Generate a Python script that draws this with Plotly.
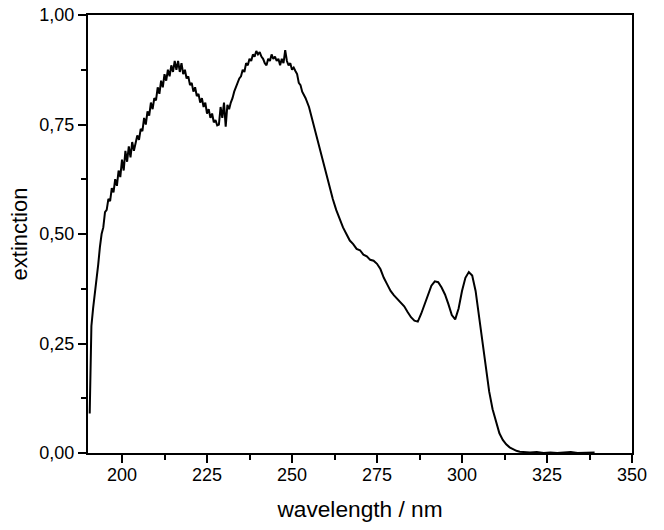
import plotly.graph_objects as go

# absorption spectrum (noisy part at 0.5 nm steps)
wavelength = [
    190.5, 191.0, 191.5, 192.0, 192.5, 193.0, 193.5, 194.0, 194.5, 195.0,
    195.5, 196.0, 196.5, 197.0, 197.5, 198.0, 198.5, 199.0, 199.5, 200.0,
    200.5, 201.0, 201.5, 202.0, 202.5, 203.0, 203.5, 204.0, 204.5, 205.0,
    205.5, 206.0, 206.5, 207.0, 207.5, 208.0, 208.5, 209.0, 209.5, 210.0,
    210.5, 211.0, 211.5, 212.0, 212.5, 213.0, 213.5, 214.0, 214.5, 215.0,
    215.5, 216.0, 216.5, 217.0, 217.5, 218.0, 218.5, 219.0, 219.5, 220.0,
    220.5, 221.0, 221.5, 222.0, 222.5, 223.0, 223.5, 224.0, 224.5, 225.0,
    225.5, 226.0, 226.5, 227.0, 227.5, 228.0, 228.5, 229.0, 229.5, 230.0,
    230.5, 231.0, 231.5, 232.0, 232.5, 233.0, 233.5, 234.0, 234.5, 235.0,
    235.5, 236.0, 236.5, 237.0, 237.5, 238.0, 238.5, 239.0, 239.5, 240.0,
    240.5, 241.0, 241.5, 242.0, 242.5, 243.0, 243.5, 244.0, 244.5, 245.0,
    245.5, 246.0, 246.5, 247.0, 247.5, 248.0, 248.5, 249.0, 249.5, 250.0,
    250.5, 251.0, 251.5, 252.0, 252.5,
    253, 254, 255, 256, 257, 258, 259, 260, 261, 262, 263, 264, 265, 266,
    267, 268, 269, 270, 271, 272, 273, 274, 275, 276, 277, 278, 279, 280,
    281, 282, 283, 284, 285, 286, 287, 288, 289, 290, 291, 292, 293, 294,
    295, 296, 297, 298, 299, 300, 301, 302, 303, 304, 305, 306, 307, 308,
    309, 310, 311, 312, 313, 314, 315, 316, 317, 318, 320, 322, 324, 326,
    328, 330, 332, 334, 336, 338, 339,
]
extinction = [
    0.09, 0.29, 0.33, 0.36, 0.40, 0.43, 0.47, 0.50, 0.515, 0.55,
    0.555, 0.58, 0.575, 0.605, 0.595, 0.625, 0.61, 0.645, 0.63, 0.67,
    0.645, 0.69, 0.665, 0.70, 0.675, 0.71, 0.69, 0.705, 0.725, 0.715,
    0.74, 0.735, 0.765, 0.75, 0.78, 0.77, 0.80, 0.785, 0.81, 0.805,
    0.835, 0.82, 0.85, 0.835, 0.865, 0.85, 0.875, 0.86, 0.885, 0.87,
    0.895, 0.875, 0.895, 0.87, 0.89, 0.865, 0.875, 0.855, 0.86, 0.84,
    0.845, 0.825, 0.835, 0.815, 0.82, 0.80, 0.81, 0.79, 0.80, 0.775,
    0.785, 0.765, 0.775, 0.755, 0.76, 0.748, 0.75, 0.79, 0.765, 0.80,
    0.745, 0.795, 0.785, 0.80, 0.81, 0.825, 0.835, 0.845, 0.855, 0.86,
    0.875, 0.87, 0.89, 0.885, 0.90, 0.895, 0.91, 0.905, 0.918, 0.91,
    0.915, 0.905, 0.90, 0.89, 0.885, 0.90, 0.895, 0.91, 0.90, 0.905,
    0.895, 0.90, 0.885, 0.90, 0.89, 0.92, 0.895, 0.885, 0.89, 0.875,
    0.88, 0.872, 0.865, 0.845, 0.84,
    0.825, 0.81, 0.79, 0.76, 0.73, 0.70, 0.67, 0.635, 0.605, 0.58, 0.555, 0.535, 0.515, 0.50,
    0.485, 0.477, 0.466, 0.463, 0.453, 0.449, 0.441, 0.439, 0.432, 0.42, 0.40, 0.385, 0.37, 0.36,
    0.352, 0.345, 0.335, 0.322, 0.31, 0.302, 0.30, 0.318, 0.34, 0.365, 0.382, 0.392, 0.39, 0.378,
    0.362, 0.34, 0.315, 0.305, 0.33, 0.37, 0.40, 0.413, 0.405, 0.37, 0.31, 0.26, 0.20, 0.14,
    0.10, 0.07, 0.045, 0.03, 0.02, 0.013, 0.008, 0.005, 0.003, 0.002, 0.001, 0.002, 0.0, 0.001,
    0.0, 0.001, 0.002, 0.0, 0.001, 0.002, 0.001,
]

font_name = "Liberation Sans, Arial"

fig = go.Figure(go.Scatter(x=wavelength, y=extinction, mode="lines",
                           line=dict(color="black", width=2)))

axis_style = dict(
    showline=True, linecolor="black", linewidth=2, mirror=True,
    ticks="outside", ticklen=8, tickwidth=2, tickcolor="black",
    showgrid=False, zeroline=False, automargin=False, ticklabeloverflow="allow",
    tickfont=dict(family=font_name, size=18, color="black"),
)
minor_style = dict(ticks="outside", ticklen=5, tickwidth=2, tickcolor="black")

fig.update_xaxes(
    axis_style, range=[190, 350], tick0=200, dtick=25, ticklabelstandoff=-4,
    minor=dict(minor_style, dtick=12.5, tick0=200),
    title=dict(text="wavelength / nm", font=dict(family=font_name, size=22.7, color="black"),
               standoff=18),
)
fig.update_yaxes(
    axis_style, range=[0, 1], dtick=0.25, tickformat=".2f",
    minor=dict(minor_style, dtick=0.125),
    title=dict(text="extinction", font=dict(family=font_name, size=22, color="black"),
               standoff=6),
)

fig.update_layout(
    width=664, height=530,
    margin=dict(l=88, r=32, t=15, b=77),
    plot_bgcolor="white", paper_bgcolor="white",
    separators=", ",
    showlegend=False,
)

# drop the browser's default 8px body margin so the figure sits at the page corner
fig.write_html("out.html", config={"displayModeBar": False},
               post_script="document.body.style.margin = '0';")
